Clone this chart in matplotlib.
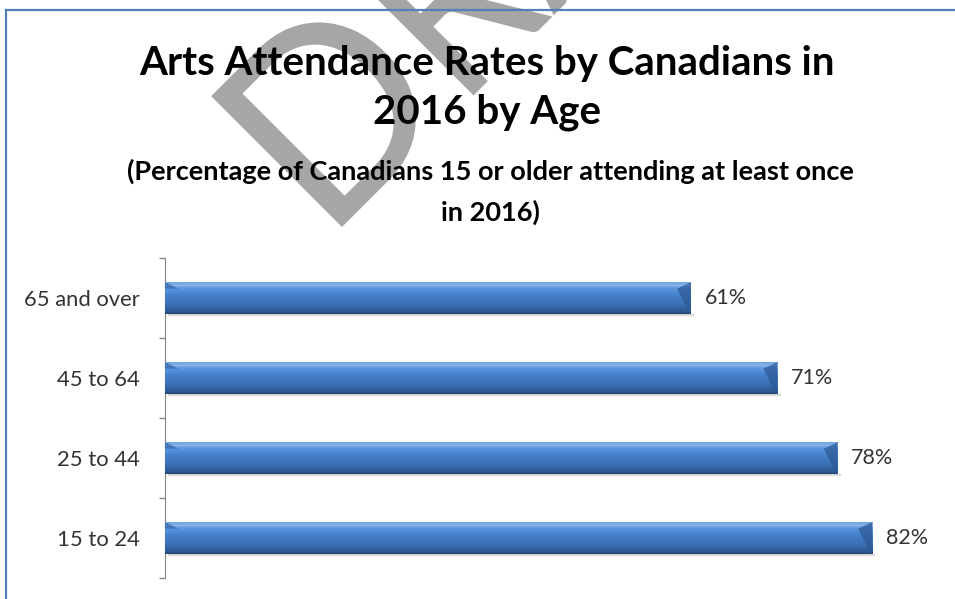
import numpy as np
import matplotlib
matplotlib.use("Agg")
import matplotlib.pyplot as plt
from matplotlib.colors import LinearSegmentedColormap
from matplotlib.lines import Line2D
from matplotlib.patches import Rectangle, Polygon, PathPatch
from matplotlib.textpath import TextPath
from matplotlib.font_manager import FontProperties
from matplotlib.transforms import Affine2D

plt.rcParams['font.family'] = ['Lato', 'DejaVu Sans']

groups = ['15 to 24', '25 to 44', '45 to 64', '65 and over']
rates = [82, 78, 71, 61]
title_lines = ['Arts Attendance Rates by Canadians in', '2016 by Age']
subtitle_lines = ['(Percentage of Canadians 15 or older attending at least once',
                  'in 2016)']

W, H = 955, 599
fig = plt.figure(figsize=(W / 100, H / 100), dpi=100)


def fx(px):
    return px / W


def fy(py):
    return 1 - py / H


# watermark behind everything: "DRAFT" glyphs turned 45 degrees
fp = FontProperties(family='Lato')
d_path = TextPath((0, 0), 'D', size=1, prop=fp)
rest_path = TextPath((0, 0), 'RAFT', size=1, prop=fp)
d_ext = d_path.get_extents()
r_ext = rest_path.get_extents()
sx = 154 / d_ext.width
sy = 185 / d_ext.height
for path, ext, shift, squeeze in [(d_path, d_ext, 0, 1.0),
                                  (rest_path, r_ext, 186, 0.85)]:
    tr = (Affine2D().translate(-ext.x0, 0).scale(sx * squeeze, sy)
          .translate(shift, 0).rotate_deg(45).translate(342, H - 227)
          .scale(1 / 100) + fig.dpi_scale_trans)
    fig.add_artist(PathPatch(path, transform=tr, facecolor='#a6a6a6',
                             edgecolor='none', zorder=-1))

# chart border (runs off the right and bottom edges)
border = '#4f81bd'
fig.add_artist(Line2D([fx(6), 1.01], [fy(10), fy(10)], color=border, lw=1.6))
fig.add_artist(Line2D([fx(6), fx(6)], [fy(10), -0.01], color=border, lw=1.6))

fig.text(0.51, fy(75), title_lines[0], ha='center', va='baseline',
         fontsize=29, fontweight='bold', color='black', zorder=5)
fig.text(0.51, fy(123), title_lines[1], ha='center', va='baseline',
         fontsize=29, fontweight='bold', color='black', zorder=5)
fig.text(0.514, fy(180), subtitle_lines[0], ha='center', va='baseline',
         fontsize=19.5, fontweight='bold', color='black', zorder=5)
fig.text(0.514, fy(221), subtitle_lines[1], ha='center', va='baseline',
         fontsize=19.5, fontweight='bold', color='black', zorder=5)

ax = fig.add_axes([fx(165), fy(578), fx(941) - fx(165), fy(258) - fy(578)])
ax.set_xlim(0, 90)
ax.set_ylim(-0.5, len(groups) - 0.5)

bar_h = 0.39
blue = LinearSegmentedColormap.from_list('bar', [
    (0.0, '#27497a'), (0.08, '#2f5a94'), (0.3, '#3a6fb3'),
    (0.6, '#4582cc'), (0.82, '#5f97de'), (0.9, '#8ab4ec'), (1.0, '#6f9fdc')])
grad = np.linspace(0, 1, 64).reshape(-1, 1)

bars = ax.barh(range(len(groups)), rates, height=bar_h, color='none',
               edgecolor='none', zorder=3)
for i, (b, v) in enumerate(zip(bars, rates)):
    y0 = i - bar_h / 2
    # soft shadow under the bar
    for k, a in enumerate([0.18, 0.12, 0.07, 0.03]):
        ax.add_patch(Rectangle((0.3, y0 - 0.012 * (k + 1)), v + 0.1, 0.012,
                               facecolor='black', alpha=a, lw=0, zorder=2))
    im = ax.imshow(grad, extent=[0, v, y0, y0 + bar_h], origin='lower',
                   cmap=blue, aspect='auto', zorder=3)
    im.set_clip_path(b)
    # bevels on the ends
    ax.add_patch(Polygon([[0, y0 + bar_h], [1.6, y0 + bar_h * 0.8],
                          [0, y0 + bar_h * 0.8]], closed=True,
                         facecolor='#2f62a8', alpha=0.7, lw=0, zorder=4))
    ax.add_patch(Polygon([[v, y0 + bar_h], [v - 1.6, y0 + bar_h * 0.8],
                          [v - 0.35, y0 + bar_h * 0.1], [v, y0]], closed=True,
                         facecolor='#2d5a96', alpha=0.75, lw=0, zorder=4))
    ax.text(v + 1.6, i, f'{v}%', va='center', ha='left', fontsize=15.5,
            color='#333333')

ax.set_aspect('auto')
ax.set_xlim(0, 90)
ax.set_ylim(-0.5, len(groups) - 0.5)

ax.set_yticks(range(len(groups)))
ax.set_yticklabels(groups, fontsize=15.8, color='#333333')
ax.set_yticks(np.arange(-0.5, len(groups)), minor=True)
ax.tick_params(axis='y', which='major', length=0, pad=18)
ax.tick_params(axis='y', which='minor', length=4, width=1, color='#868686')
ax.set_xticks([])
for side in ['top', 'right', 'bottom']:
    ax.spines[side].set_visible(False)
ax.spines['left'].set_color('#868686')
ax.patch.set_alpha(0)

fig.savefig('out.png', dpi=100)
